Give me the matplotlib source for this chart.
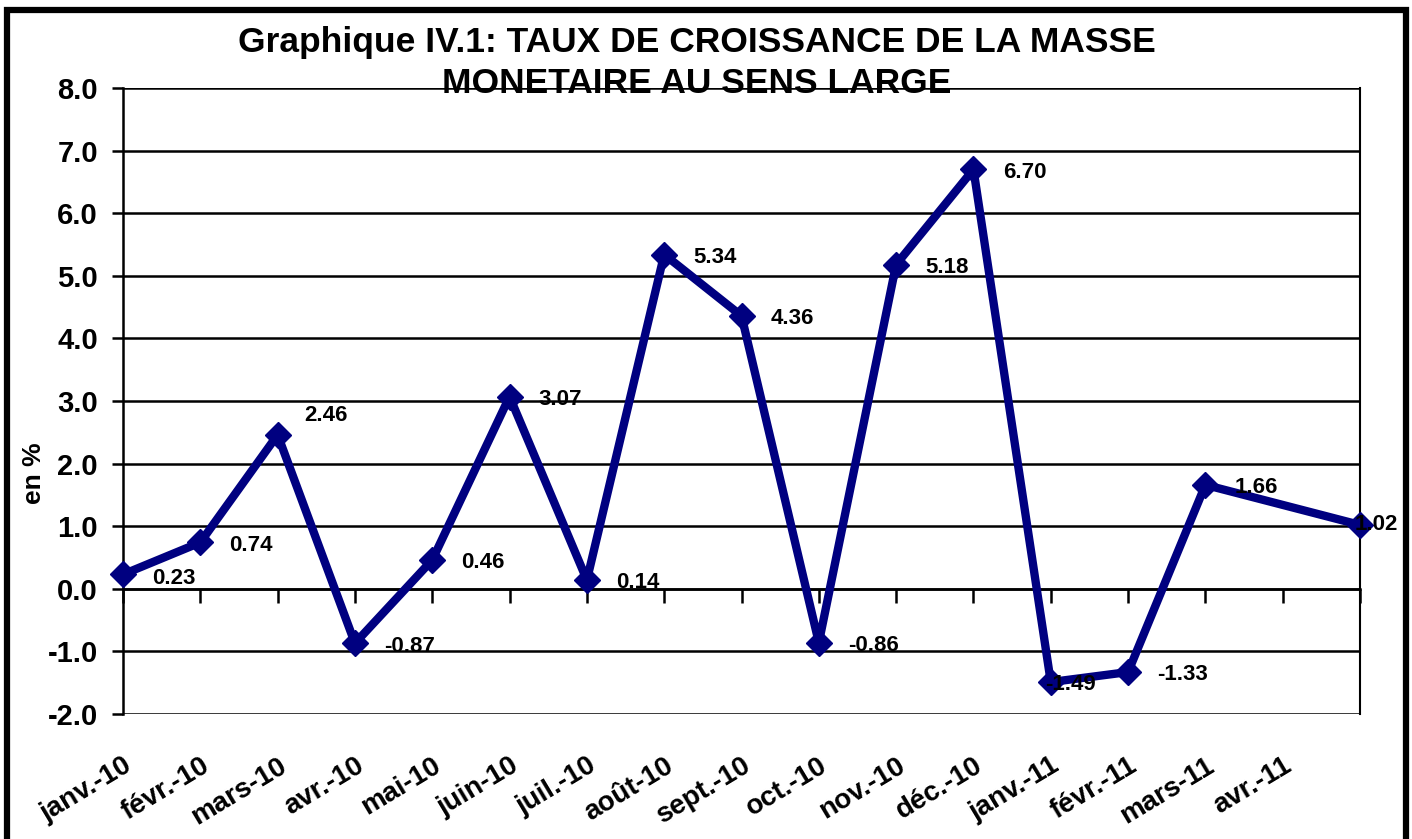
import matplotlib
matplotlib.use('Agg')
import numpy as np
import matplotlib.pyplot as plt
from matplotlib.patches import Rectangle

# catégories (17 positions, la dernière sans libellé)
months = ['janv.-10', 'févr.-10', 'mars-10', 'avr.-10', 'mai-10', 'juin-10',
          'juil.-10', 'août-10', 'sept.-10', 'oct.-10', 'nov.-10', 'déc.-10',
          'janv.-11', 'févr.-11', 'mars-11', 'avr.-11', '']
# taux de croissance en % (valeur manquante en 16e position)
growth = [0.23, 0.74, 2.46, -0.87, 0.46, 3.07, 0.14, 5.34, 4.36, -0.86,
          5.18, 6.70, -1.49, -1.33, 1.66, np.nan, 1.02]
y_ticks = [-2, -1, 0, 1, 2, 3, 4, 5, 6, 7, 8]

plt.rcParams['font.family'] = ['Liberation Sans', 'DejaVu Sans']
plt.rcParams['font.weight'] = 'bold'
plt.rcParams['axes.unicode_minus'] = False

navy = '#000080'

fig = plt.figure(figsize=(14.12, 8.39), dpi=100)
ax = fig.add_axes([0.0871, 0.149, 0.8761, 0.7461])

# axe des abscisses sur la ligne zéro (à faire avant de poser les ticks)
ax.spines['bottom'].set_position(('data', 0))
ax.spines['top'].set_visible(False)
ax.spines['left'].set_linewidth(1.8)
ax.spines['right'].set_linewidth(1.5)
ax.spines['bottom'].set_linewidth(1.8)

x = np.arange(len(months))
vals = np.array(growth, dtype=float)
ok = ~np.isnan(vals)

# ligne reliant les points (la valeur manquante est sautée)
ax.plot(x[ok], vals[ok], color=navy, lw=6, marker='D', ms=13,
        solid_joinstyle='round', zorder=5, clip_on=False)

# étiquettes de données, décalées à droite du point (offsets en points)
offsets = {0: (21, -3), 2: (19, 14), 12: (-4, -2), 16: (-4, 0)}
for i in x[ok]:
    dx, dy = offsets.get(i, (21, -2))
    ax.annotate(f"{vals[i]:.2f}", (i, vals[i]), xytext=(dx, dy),
                textcoords='offset points', ha='left', va='center',
                fontsize=16, fontweight='bold', color='black', zorder=6)

ax.set_xlim(0, len(months) - 1)
ax.set_ylim(-2, 8)
ax.set_yticks(y_ticks)
ax.set_yticklabels([f"{t:.1f}" for t in y_ticks], fontsize=21, fontweight='bold')
ax.yaxis.grid(True, color='black', lw=1.8)
ax.set_axisbelow(True)
ax.tick_params(axis='y', length=8, width=1.8, pad=10)

ax.set_xticks(x)
ax.set_xticklabels(months, fontsize=20, fontweight='bold', rotation=31,
                   ha='right', va='top', rotation_mode='anchor')
ax.tick_params(axis='x', length=10, width=1.8, direction='out', pad=108)

ax.set_ylabel('en %', fontsize=19, fontweight='bold', labelpad=0)
ax.yaxis.set_label_coords(-0.062, 0.385)

fig.text(0.4936, 0.925, 'Graphique IV.1: TAUX DE CROISSANCE DE LA MASSE\nMONETAIRE AU SENS LARGE',
         ha='center', va='center', fontsize=25.5, fontweight='bold',
         linespacing=1.3)

# cadre extérieur
fig.patches.append(Rectangle((7 / 1412, -0.05), 1399 / 1412, 1.038,
                             transform=fig.transFigure, fill=False,
                             edgecolor='black', lw=4.5, clip_on=False))

fig.savefig('out.png', dpi=100)
